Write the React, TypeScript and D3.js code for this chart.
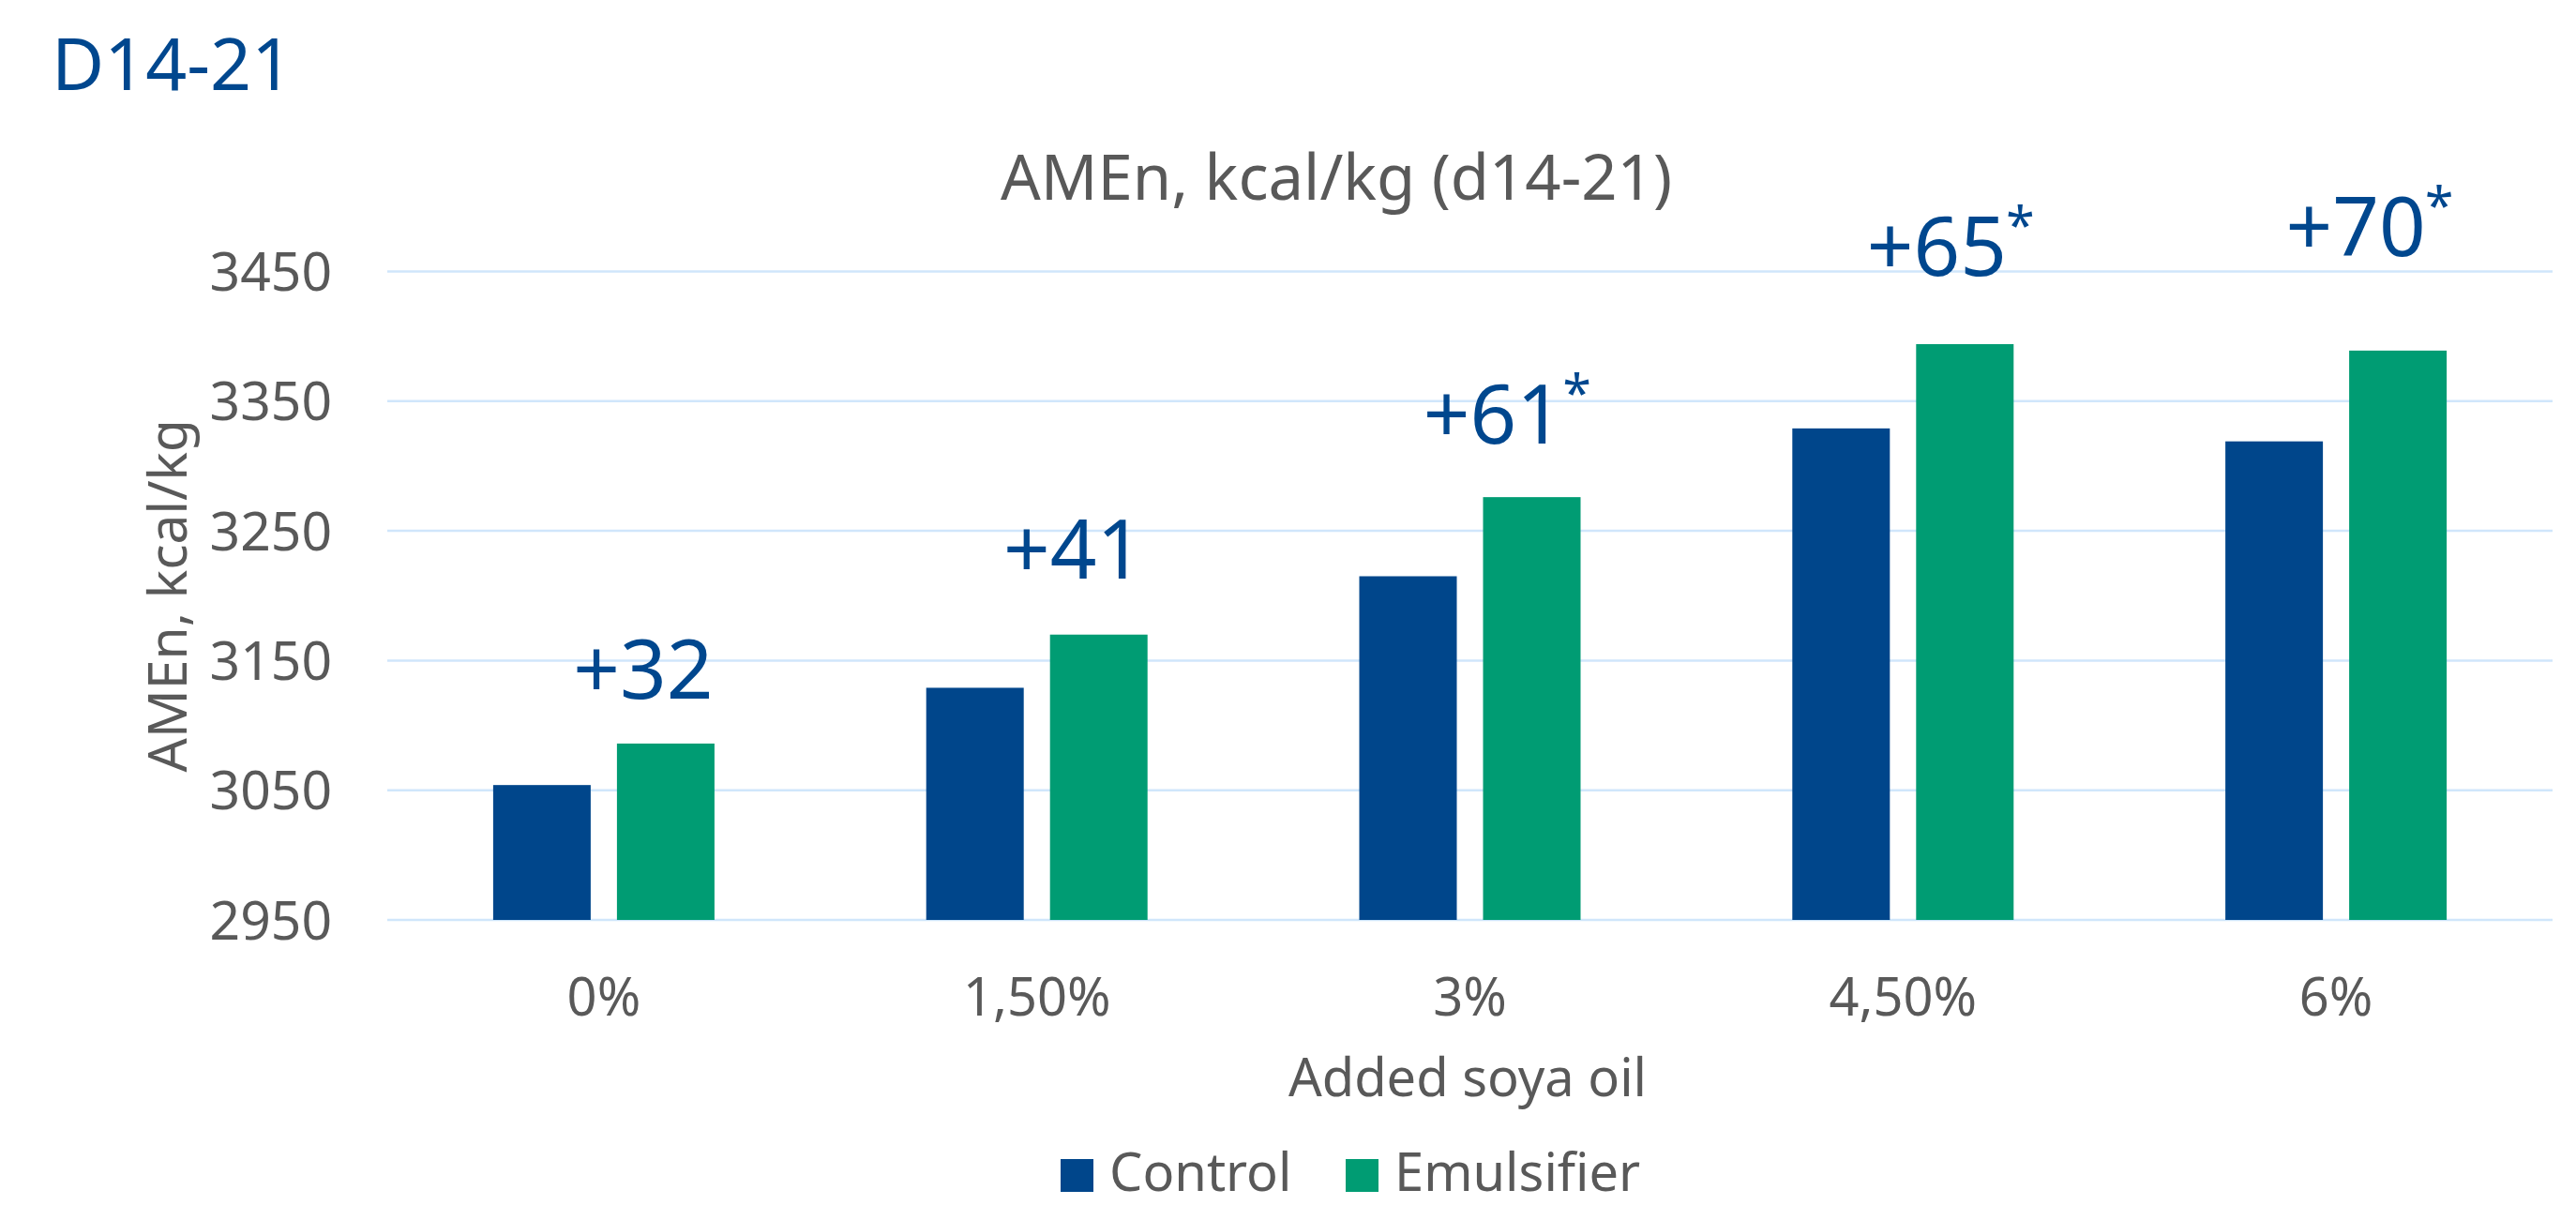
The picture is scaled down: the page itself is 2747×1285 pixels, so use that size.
import React from "react";
import * as d3 from "d3";

const categories = ["0%", "1,50%", "3%", "4,50%", "6%"];
const seriesNames = ["Control", "Emulsifier"];
const controlValues = [3054, 3129, 3215, 3329, 3319];
const emulsifierValues = [3086, 3170, 3276, 3394, 3389];
const yTickValues = [2950, 3050, 3150, 3250, 3350, 3450];
const diffLabels = ["+32", "+41", "+61", "+65", "+70"];
const diffSignificant = [false, false, true, true, true];
// annotation anchor (value units) for the text baseline
const diffLabelValue = [3120.5, 3213, 3317, 3447, 3462];

const W = 2747;
const H = 1285;
const FONT = "'Noto Sans', 'Open Sans', sans-serif";
const GRAY = "#595959";
const BLUE = "#00468B";
const GREEN = "#009C73";
const TITLE_BLUE = "#00478E";
const GRID = "#D0E6FB";

export default function App() {
  const plot = { left: 413, right: 2722, top: 289.5, bottom: 981 };
  const x = d3.scaleBand<string>().domain(categories).range([plot.left, plot.right]).padding(0);
  const groupW = 236;
  const inner = d3.scaleBand<string>().domain(seriesNames).range([-groupW / 2, groupW / 2]).paddingInner(28 / 132).paddingOuter(0);
  const y = d3.scaleLinear().domain([2950, 3450]).range([plot.bottom, plot.top]);
  const colors = d3.scaleOrdinal<string, string>().domain(seriesNames).range([BLUE, GREEN]);
  const seriesValues = [controlValues, emulsifierValues];
  const labelDx = [42, 39, 25, 36, 21];

  return (
    <svg width={W} height={H} style={{ position: "absolute", left: 0, top: 0, display: "block", background: "#fff" }} fontFamily={FONT}>
      <text x={55} y={96} fontSize={77} fill={TITLE_BLUE}>D14-21</text>
      <text x={1425} y={213} fontSize={67} fill={GRAY} textAnchor="middle">AMEn, kcal/kg (d14-21)</text>

      {yTickValues.map((t) => (
        <g key={t}>
          <line x1={plot.left} x2={plot.right} y1={y(t)} y2={y(t)} stroke={GRID} strokeWidth={2.5} />
          <text x={354} y={y(t)} dy="0.36em" fontSize={57} fill={GRAY} textAnchor="end">{t}</text>
        </g>
      ))}

      <text transform={`translate(199, ${(plot.top + plot.bottom) / 2}) rotate(-90)`} fontSize={57} fill={GRAY} textAnchor="middle">AMEn, kcal/kg</text>

      {categories.map((c, i) => {
        const cx = (x(c) as number) + x.bandwidth() / 2;
        return (
          <g key={c}>
            {seriesNames.map((s, j) => {
              const v = seriesValues[j][i];
              return (
                <rect key={s} x={cx + (inner(s) as number)} width={inner.bandwidth()} y={y(v)} height={y(2950) - y(v)} fill={colors(s)} />
              );
            })}
            <text x={cx} y={1083} fontSize={56} fill={GRAY} textAnchor="middle">{c}</text>
            <text x={cx + labelDx[i]} y={y(diffLabelValue[i])} fontSize={87} fill={TITLE_BLUE} textAnchor="middle">
              {diffLabels[i]}
            </text>
            {diffSignificant[i] && (
              <text x={cx + labelDx[i] + 74} y={y(diffLabelValue[i]) - 34} fontSize={55} fill={TITLE_BLUE}>*</text>
            )}
          </g>
        );
      })}

      <text x={1565} y={1169} fontSize={56} fill={GRAY} textAnchor="middle">Added soya oil</text>

      {seriesNames.map((s, j) => {
        const lx = [1131, 1435][j];
        return (
          <g key={s}>
            <rect x={lx} y={1236} width={35} height={35} fill={colors(s)} />
            <text x={lx + 52} y={1270} fontSize={56} fill={GRAY}>{s}</text>
          </g>
        );
      })}
    </svg>
  );
}
